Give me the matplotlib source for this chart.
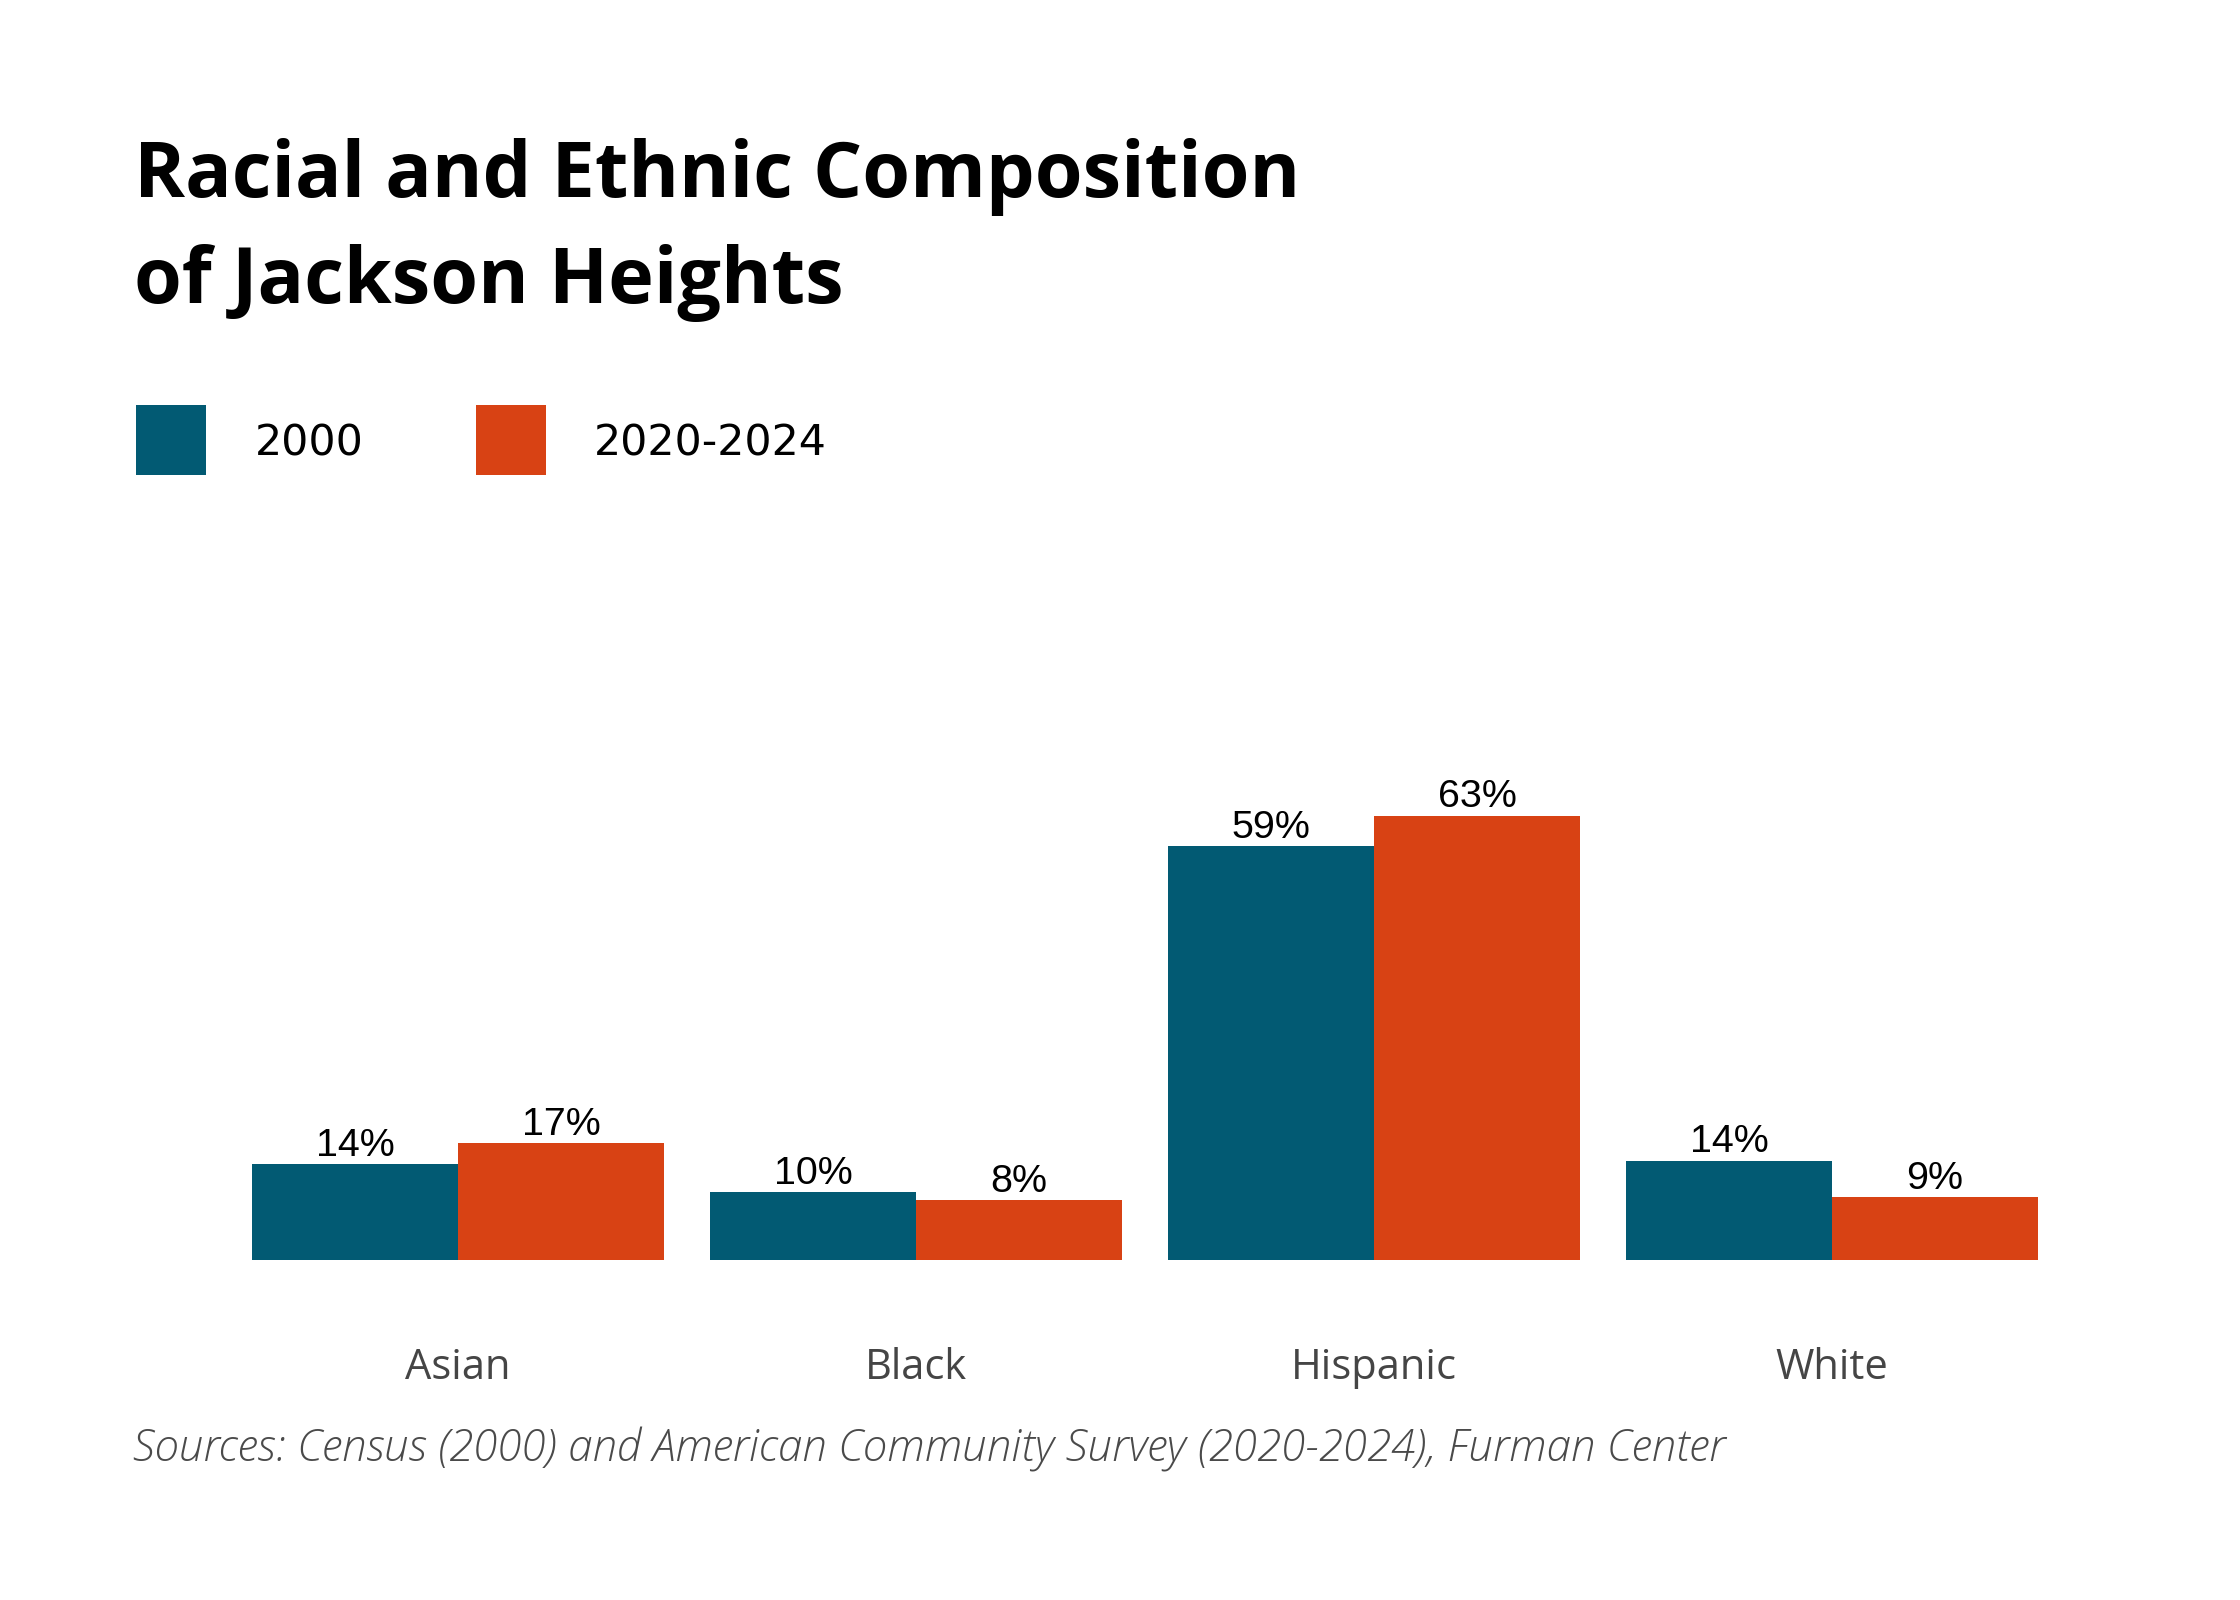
import matplotlib
matplotlib.use("Agg")
import matplotlib.pyplot as plt
import matplotlib.transforms as mtransforms
import numpy as np
from matplotlib.patches import Rectangle

categories = ["Asian", "Black", "Hispanic", "White"]
series_names = ["2000", "2020-2024"]
values_2000 = [13.6, 9.6, 58.8, 14.1]
values_2020 = [16.6, 8.5, 63.1, 8.9]
colors = ["#025A73", "#D84214"]

title_lines = ["Racial and Ethnic Composition", "of Jackson Heights"]
source_text = "Sources: Census (2000) and American Community Survey (2020-2024), Furman Center"

W, H = 2240, 1600
DPI = 200
fig = plt.figure(figsize=(W / DPI, H / DPI), dpi=DPI)
fig.patch.set_facecolor("white")

def fx(px):
    return px / W

def fy(py):
    return 1 - py / H

# axes placement (pixel based)
ax_left, ax_right, ax_bottom, ax_top = 229, 2061, 1260, 767
ax = fig.add_axes([fx(ax_left), fy(ax_bottom), (ax_right - ax_left) / W, (ax_bottom - ax_top) / H])
ax.set_xlim(-0.5, 3.5)
ax.set_ylim(0, 70)
ax.axis("off")

x = np.arange(len(categories))
bw = 0.45
for i, (vals, col) in enumerate([(values_2000, colors[0]), (values_2020, colors[1])]):
    offs = -bw / 2 if i == 0 else bw / 2
    ax.bar(x + offs, vals, width=bw, color=col, linewidth=0)
    for xi, v in zip(x + offs, vals):
        ax.annotate(f"{round(v)}%", xy=(xi, v), xytext=(0, 3.0), textcoords="offset points",
                    ha="center", va="baseline", fontsize=14.2, family="Liberation Sans",
                    color="black")

# category labels
lab_tr = mtransforms.blended_transform_factory(ax.transData, fig.transFigure)
for xi, c in zip(x, categories):
    ax.text(xi, fy(1379), c, transform=lab_tr, ha="center", va="baseline",
            fontsize=15, family="Open Sans", color="#454545")

# title
for ty, line in zip([197, 303], title_lines):
    fig.text(fx(134), fy(ty), line, ha="left", va="baseline", fontsize=27.8,
             family="Open Sans", weight="bold", color="black")

# legend
sq = 70
for (lx, tx), name, col in zip([(136, 255), (476, 594)], series_names, colors):
    fig.patches.append(Rectangle((fx(lx), fy(475)), sq / W, sq / H, transform=fig.transFigure,
                                 facecolor=col, edgecolor="none"))
    fig.text(fx(tx), fy(456), name, ha="left", va="baseline", fontsize=15.4,
             family="DejaVu Sans", color="black")

# source
fig.text(fx(133), fy(1462), source_text, ha="left", va="baseline", fontsize=15.8,
         family="Open Sans", weight="light", style="italic", color="#4a4a4a")

fig.savefig("out.png", dpi=DPI, facecolor="white")
